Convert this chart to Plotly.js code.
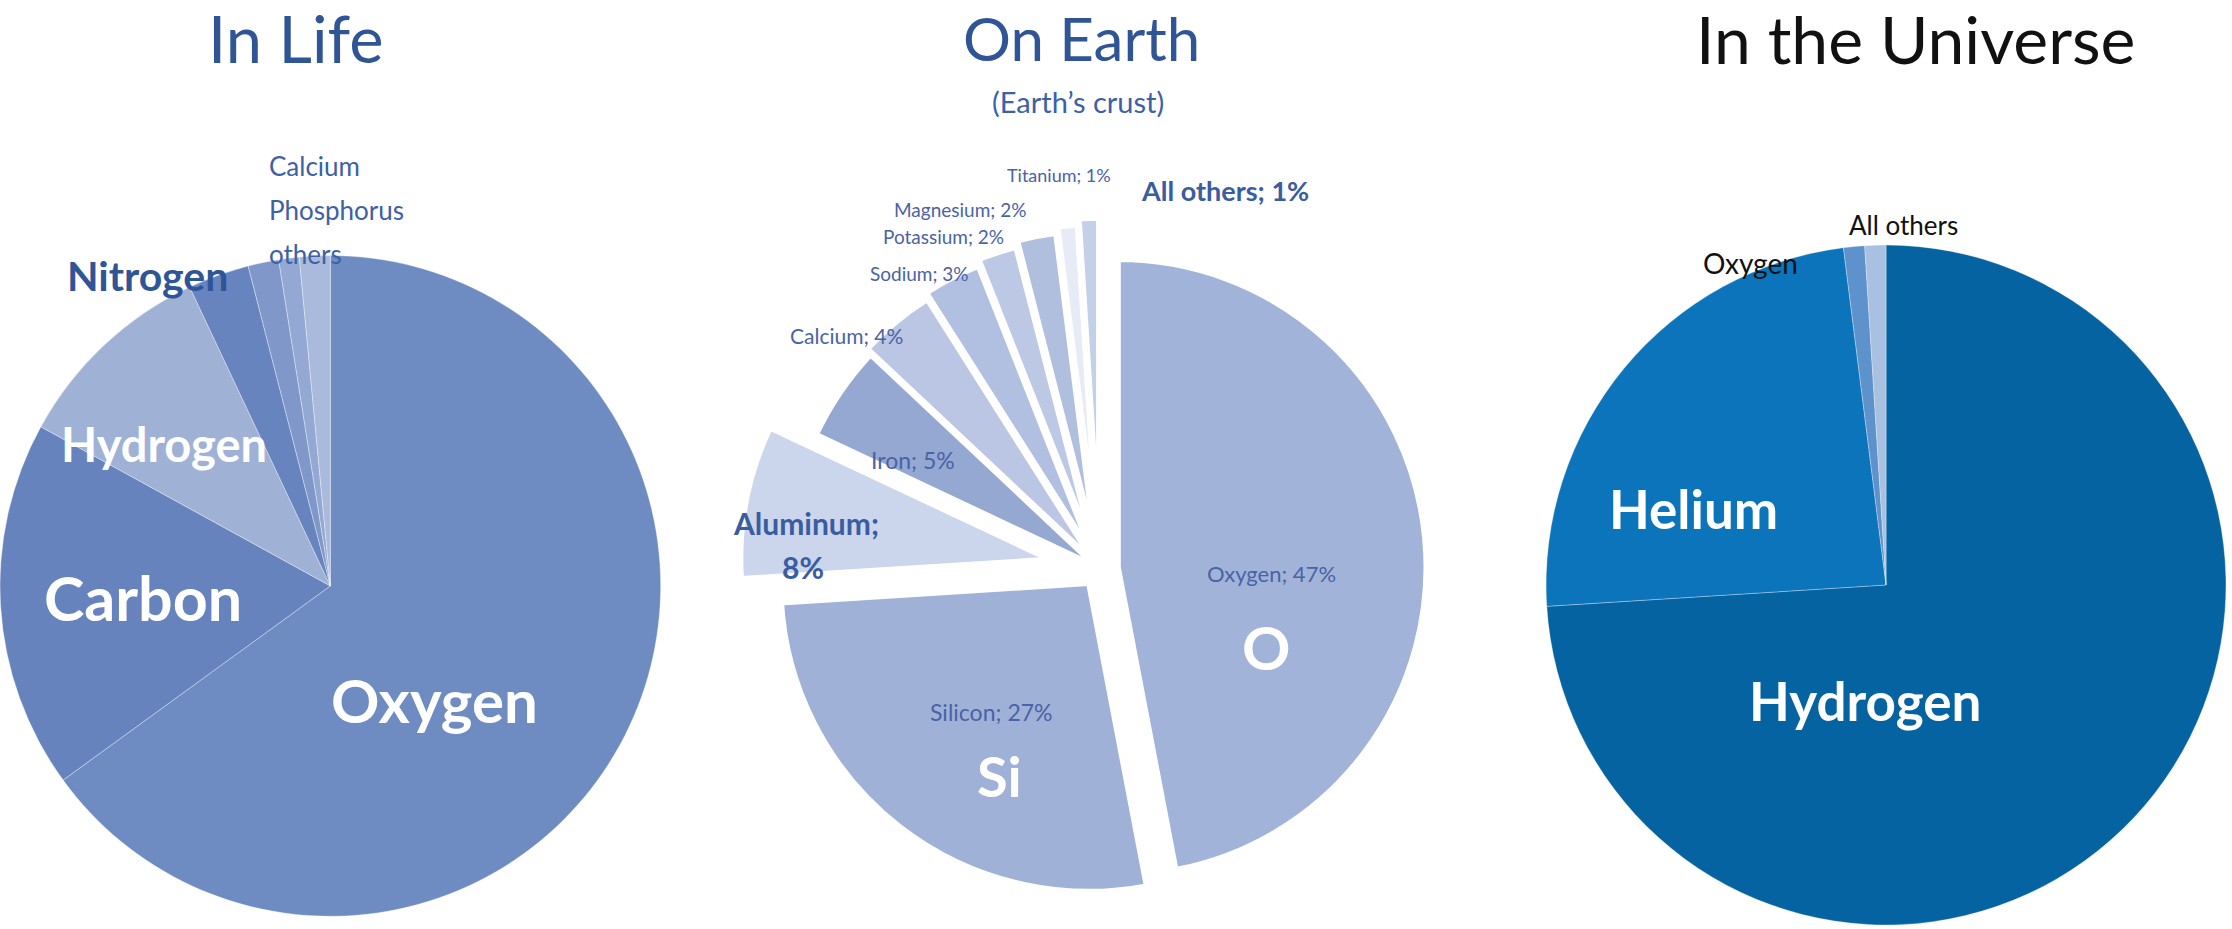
<!DOCTYPE html>
<html>
<head>
<meta charset="utf-8">
<script src="https://cdn.plot.ly/plotly-3.0.1.min.js"></script>
<style>
html,body{margin:0;padding:0;background:#fff;}
#chart{width:2232px;height:929px;}
</style>
</head>
<body>
<div id="chart"></div>
<script>
// ---- data ----
const lifeLabels = ['Oxygen', 'Carbon', 'Hydrogen', 'Nitrogen', 'Calcium', 'Phosphorus', 'others'];
const lifeValues = [65, 18, 10, 3, 1.5, 1, 1.5];
const lifeColors = ['#6E8BC2', '#6683BD', '#A0B1D6', '#6884BF', '#7F98C9', '#93A8D3', '#A9BADC'];

const earthLabels = ['Oxygen', 'Silicon', 'Aluminum', 'Iron', 'Calcium', 'Sodium', 'Potassium', 'Magnesium', 'Titanium', 'All others'];
const earthValues = [47, 27, 8, 5, 4, 3, 2, 2, 1, 1];
const earthColors = ['#A2B3D9', '#A0B1D8', '#CBD5EB', '#94A8D2', '#BAC6E3', '#B1BFE0', '#BCC8E4', '#B1BFDF', '#E6EBF5', '#C4CFE8'];
const earthPull = [0.06, 0.06, 0.17, 0.02, 0.04, 0.06, 0.08, 0.1, 0.12, 0.14];

const universeLabels = ['Hydrogen', 'Helium', 'Oxygen', 'All others'];
const universeValues = [74, 24, 1, 1];
const universeColors = ['#0563A1', '#0B74BA', '#5E92CC', '#A9C0E1'];

const W = 2232, H = 929;
const FONT = 'Lato, "Open Sans", sans-serif';
const px = x => x / W;
const py = y => 1 - y / H;

const traces = [
  {
    type: 'pie', labels: lifeLabels, values: lifeValues, sort: false, direction: 'clockwise',
    marker: {colors: lifeColors, line: {color: 'rgba(255,255,255,0.35)', width: 1}},
    textinfo: 'none', hoverinfo: 'label+value', showlegend: false,
    domain: {x: [0, 0.296], y: [0.012, 0.7266]}
  },
  {
    type: 'pie', labels: earthLabels, values: earthValues, sort: false, direction: 'clockwise',
    pull: earthPull,
    marker: {colors: earthColors, line: {color: '#ffffff', width: 5}},
    textinfo: 'none', hoverinfo: 'label+value', showlegend: false,
    domain: {x: [0.3248, 0.6608], y: [0, 0.775]}
  },
  {
    type: 'pie', labels: universeLabels, values: universeValues, sort: false, direction: 'clockwise',
    marker: {colors: universeColors, line: {color: 'rgba(255,255,255,0.3)', width: 1}},
    textinfo: 'none', hoverinfo: 'label+value', showlegend: false,
    domain: {x: [0.6927, 0.9973], y: [0.0043, 0.7363]}
  }
];

function ann(text, x, y, size, color, opts) {
  const o = opts || {};
  return {
    text: text, x: px(x), y: py(y), xref: 'paper', yref: 'paper',
    showarrow: false, xanchor: o.xanchor || 'center', yanchor: 'middle',
    font: {family: FONT, size: size, color: color, weight: o.weight || 'normal'}
  };
}

const dark = '#2F5597';
const mid = '#3D60A6';
const small = '#4963A6';
const B = {weight: 'bold'};
const lbl = i => earthLabels[i] + '; ' + earthValues[i] + '%';

const annotations = [
  // titles
  ann('In Life', 296, 38, 65, dark),
  ann('On Earth', 1081, 38, 60, dark),
  ann('(Earth\u2019s crust)', 1078, 102, 29, mid),
  ann('In the Universe', 1915, 38, 66, '#111111'),
  // In Life labels
  ann(lifeLabels[0], 434, 700, 60, '#ffffff', B),
  ann(lifeLabels[1], 143, 597, 61, '#ffffff', B),
  ann(lifeLabels[2], 164, 444, 47, '#ffffff', B),
  ann(lifeLabels[3], 147, 275, 41, dark, B),
  ann(lifeLabels[4], 267, 166, 26, mid, {xanchor: 'left'}),
  ann(lifeLabels[5], 267, 210, 26, mid, {xanchor: 'left'}),
  ann(lifeLabels[6], 267, 254, 26, mid, {xanchor: 'left'}),
  // On Earth labels
  ann(lbl(0), 1271, 573, 22, small),
  ann('O', 1266, 647, 60, '#ffffff', B),
  ann(lbl(1), 991, 712, 23, small),
  ann('Si', 999, 775, 56, '#ffffff', B),
  ann(earthLabels[2] + ';', 806, 523, 30, '#3A5CA0', B),
  ann(earthValues[2] + '%', 803, 567, 30, '#3A5CA0', B),
  ann(lbl(3), 913, 460, 23, small),
  ann(lbl(4), 846, 335, 21, small),
  ann(lbl(5), 919, 273, 19, small),
  ann(lbl(6), 943, 237, 19, small),
  ann(lbl(7), 960, 209, 19, small),
  ann(lbl(8), 1059, 175, 18, small),
  ann(lbl(9), 1225, 190, 27, '#3A5CA0', B),
  // Universe labels
  ann(universeLabels[0], 1865, 700, 53, '#ffffff', B),
  ann(universeLabels[1], 1693, 508, 53, '#ffffff', B),
  ann(universeLabels[2], 1750, 263, 28, '#111111'),
  ann(universeLabels[3], 1904, 225, 26, '#111111')
];

const layout = {
  width: W, height: H,
  margin: {l: 0, r: 0, t: 0, b: 0},
  paper_bgcolor: '#ffffff', plot_bgcolor: '#ffffff',
  font: {family: FONT},
  annotations: annotations,
  showlegend: false
};

Plotly.newPlot('chart', traces, layout, {displayModeBar: false, staticPlot: true});
</script>
</body>
</html>
